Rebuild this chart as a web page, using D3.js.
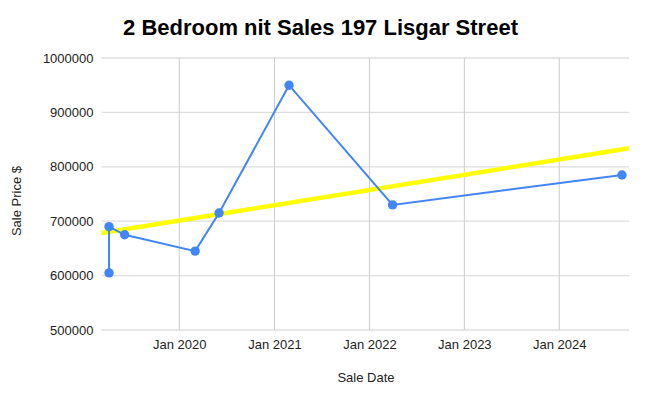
<!DOCTYPE html>
<html><head><meta charset="utf-8">
<script src="https://cdn.jsdelivr.net/npm/d3@7"></script>
<style>body{margin:0;background:#fff}svg{display:block}text{font-family:"Liberation Sans",Arial,sans-serif}</style>
</head><body><svg id="c" width="645" height="403"></svg>
<script>
const saleDates = ["2019-04-06","2019-04-06","2019-06-05","2020-03-02","2020-06-02","2021-02-26","2022-03-31","2024-08-29"];
const salePrices = [605000,690000,675000,645000,715000,950000,730000,785000];
const yTicks = [500000,600000,700000,800000,900000,1000000];
const xTickDates = ["2020-01-01","2021-01-01","2022-01-01","2023-01-01","2024-01-01"];
const xDomain = ["2019-03-08","2024-09-25"];
const title = "2 Bedroom nit Sales 197 Lisgar Street";

const parse = d3.utcParse("%Y-%m-%d");
const data = saleDates.map((d,i)=>({date:parse(d), price:salePrices[i]}));
const svg = d3.select("#c");
const L=101.5, R=629, T=58, B=330;
const x = d3.scaleUtc().domain(xDomain.map(parse)).range([L,R]);
const y = d3.scaleLinear().domain([500000,1000000]).range([B,T]);

// horizontal grid
svg.append("g").selectAll("line").data(yTicks).join("line")
  .attr("x1",L).attr("x2",R).attr("y1",d=>y(d)).attr("y2",d=>y(d))
  .attr("stroke","#dedede").attr("stroke-width",1.3);
// vertical grid
svg.append("g").selectAll("line").data(xTickDates.map(parse)).join("line")
  .attr("x1",d=>x(d)).attr("x2",d=>x(d)).attr("y1",T).attr("y2",B)
  .attr("stroke","#cccccc").attr("stroke-width",1);

// y axis labels
const ya = svg.append("g").attr("transform",`translate(${L-8},0)`)
  .call(d3.axisLeft(y).tickValues(yTicks).tickFormat(d3.format("d")).tickSize(0).tickPadding(0));
ya.select(".domain").remove();
ya.selectAll("text").attr("font-size",13).attr("fill","#222").attr("font-family","Liberation Sans, Arial, sans-serif");

// x axis labels
const xa = svg.append("g").attr("transform",`translate(0,${B})`)
  .call(d3.axisBottom(x).tickValues(xTickDates.map(parse)).tickFormat(d3.utcFormat("%b %Y")).tickSize(0).tickPadding(10));
xa.select(".domain").remove();
xa.selectAll("text").attr("font-size",13).attr("fill","#222").attr("font-family","Liberation Sans, Arial, sans-serif");

// trendline (least squares)
const xs = data.map(d=>+d.date), ys = data.map(d=>d.price);
const mx = d3.mean(xs), my = d3.mean(ys);
const slope = d3.sum(xs.map((v,i)=>(v-mx)*(ys[i]-my))) / d3.sum(xs.map(v=>(v-mx)*(v-mx)));
const inter = my - slope*mx;
const dom = x.domain();
svg.append("line")
  .attr("x1",x(dom[0])).attr("x2",x(dom[1]))
  .attr("y1",y(inter+slope*(+dom[0]))).attr("y2",y(inter+slope*(+dom[1])))
  .attr("stroke","#ffff00").attr("stroke-width",4.5);

// series line
svg.append("path").datum(data)
  .attr("d",d3.line().x(d=>x(d.date)).y(d=>y(d.price)))
  .attr("fill","none").attr("stroke","#4285f4").attr("stroke-width",2);
svg.append("g").selectAll("circle").data(data).join("circle")
  .attr("cx",d=>x(d.date)).attr("cy",d=>y(d.price)).attr("r",4.7).attr("fill","#4285f4");

// titles
svg.append("text").attr("x",320.5).attr("y",35).attr("text-anchor","middle")
  .attr("font-size",22).attr("font-weight","bold").attr("fill","#000").text(title);
svg.append("text").attr("x",366).attr("y",382).attr("text-anchor","middle")
  .attr("font-size",13).attr("fill","#222").text("Sale Date");
svg.append("text").attr("transform","translate(21,201) rotate(-90)").attr("text-anchor","middle")
  .attr("font-size",13).attr("fill","#222").text("Sale Price $");
</script></body></html>
